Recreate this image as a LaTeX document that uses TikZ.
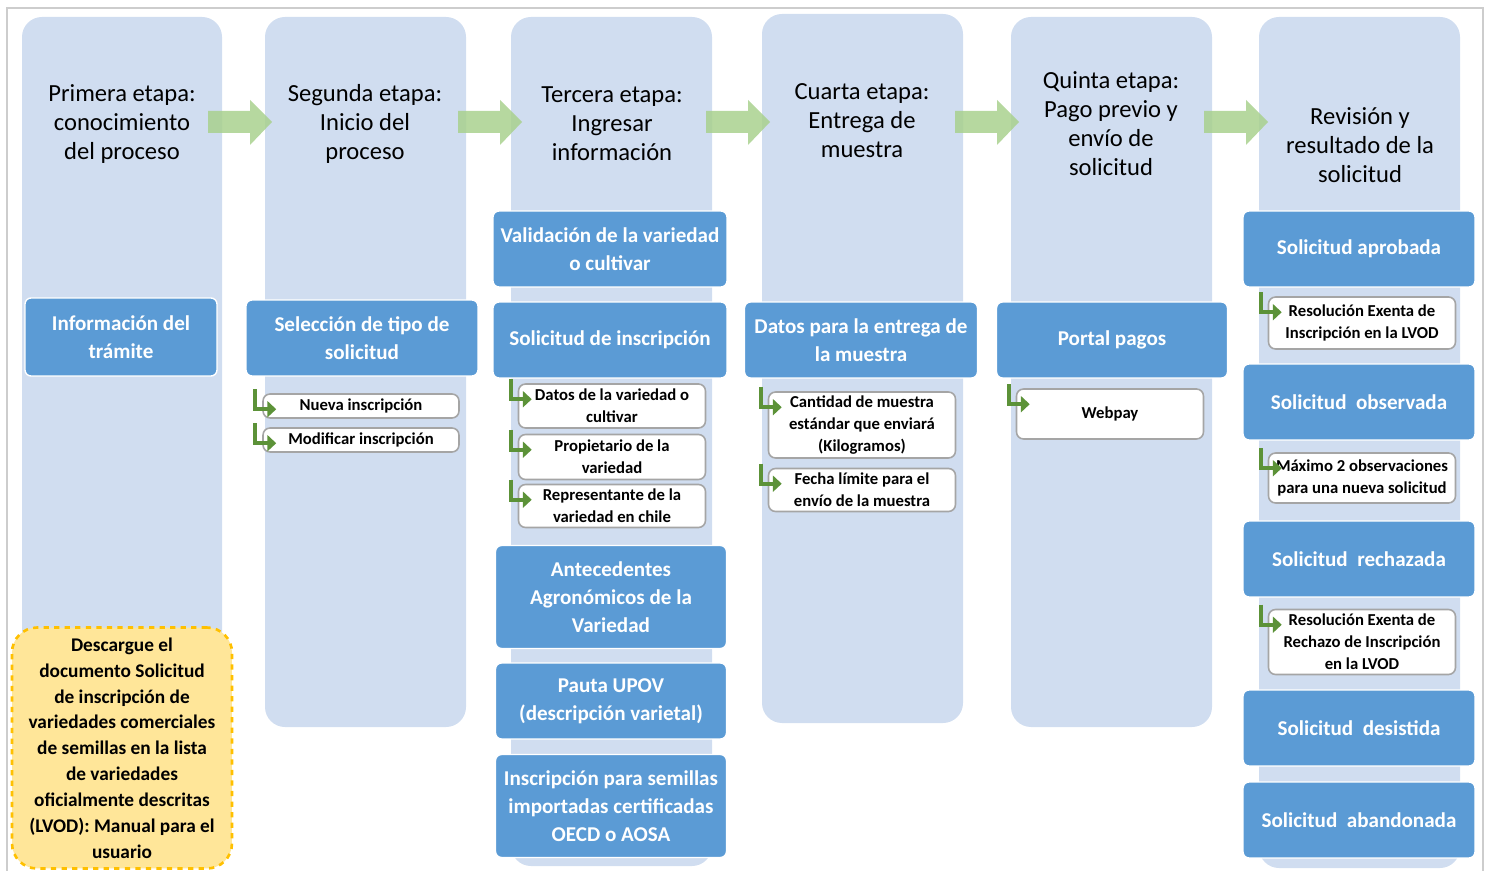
\documentclass[tikz,border=0pt]{standalone}
\usepackage{fontspec}
\setmainfont{Carlito}
\usetikzlibrary{calc,arrows.meta}
\definecolor{colfondo}{RGB}{208,221,240}
\definecolor{azul}{RGB}{91,155,213}
\definecolor{gris}{RGB}{165,165,165}
\definecolor{marcogris}{RGB}{205,205,205}
\definecolor{verdeclaro}{RGB}{169,209,142}
\definecolor{verdeosc}{RGB}{92,146,56}
\definecolor{amarillo}{RGB}{255,230,153}
\definecolor{naranja}{RGB}{255,192,0}
\tikzset{
 columna/.style={fill=colfondo, rounded corners=0.4cm},
 titulo/.style={align=center, font=\fontsize{14}{16.5}\selectfont},
 caja/.style={fill=azul, draw=white, line width=0.8pt, rounded corners=0.12cm, text=white, align=center,
   font=\bfseries\fontsize{12}{15.9}\selectfont, inner sep=0pt, minimum width=4.64cm, minimum height=1.52cm},
 sub/.style={fill=white, draw=gris, line width=0.9pt, rounded corners=0.14cm, align=center,
   font=\bfseries\fontsize{9.5}{12.5}\selectfont, inner sep=0pt, minimum width=3.74cm},
 flecha/.style={fill=verdeclaro, opacity=0.85},
 giro/.style={draw=verdeosc, line width=2.5pt, -{Triangle[length=5pt,width=9pt]}},
 aviso/.style={fill=amarillo, draw=naranja, dashed, line width=1.5pt, rounded corners=0.5cm, align=center,
   font=\bfseries\fontsize{11}{14.7}\selectfont, inner sep=0pt, minimum width=4.4cm, minimum height=4.82cm},
}
\begin{document}
\begin{tikzpicture}[x=0.02cm, y=-0.02cm]
 \useasboundingbox (0,0) rectangle (1488,871);
 \draw[marcogris, line width=1.2pt] (7,871) -- (7,8) -- (1483,8) -- (1483,871); %marco
 % columnas
 \fill[columna] (22,17) rectangle (222,720);
 \fill[columna] (265,17) rectangle (466,727);
 \fill[columna] (511,17) rectangle (712,866);
 \fill[columna] (762,14) rectangle (963,723);
 \fill[columna] (1011,17) rectangle (1212,727);
 \fill[columna] (1259,17) rectangle (1460,868);
 % titulos
 \node[titulo] (t1) at (122,124) {Primera etapa:\\conocimiento\\del proceso};
 \node[titulo] (t2) at (365,124) {Segunda etapa:\\Inicio del\\proceso};
 \node[titulo] (t3) at (612,124) {Tercera etapa:\\Ingresar\\información};
 \node[titulo] (t4) at (862,121) {Cuarta etapa:\\Entrega de\\muestra};
 \node[titulo] (t5) at (1111,124) {Quinta etapa:\\Pago previo y\\envío de\\solicitud};
 \node[titulo] (t6) at (1360,145) {Revisión y\\resultado de la\\solicitud};
 % flechas entre etapas
 \foreach \x in {208,458,706,955,1204}
  \fill[flecha] (\x,111) -- ++(42,0) -- ++(0,-11) -- ++(22,22) -- ++(-22,23) -- ++(0,-12) -- ++(-42,0) -- cycle;
 % cajas azules
 \node[caja, minimum width=3.84cm, minimum height=1.56cm] (info) at (121,337) {Información del\\trámite};
 \node[caja] (seleccion) at (362,338) {Selección de tipo de\\solicitud};
 \node[caja, minimum width=4.68cm] (validacion) at (610,249) {Validación de la variedad\\o cultivar};
 \node[caja, minimum width=4.68cm] (inscripcion) at (610,340) {Solicitud de inscripción};
 \node[caja, minimum width=4.62cm, minimum height=2.06cm] (antecedentes) at (611,597) {Antecedentes\\Agronómicos de la\\Variedad};
 \node[caja, minimum width=4.62cm] (pauta) at (611,701) {Pauta UPOV\\(descripción varietal)};
 \node[caja, minimum width=4.62cm, minimum height=2.06cm] (semillas) at (611,806) {Inscripción para semillas\\importadas certificadas\\OECD o AOSA};
 \node[caja, minimum width=4.66cm] (entrega) at (861,340) {Datos para la entrega de\\la muestra};
 \node[caja, minimum width=4.62cm] (portal) at (1112,340) {Portal pagos};
 \node[caja] (aprobada) at (1359,249) {Solicitud aprobada};
 \node[caja] (observada) at (1359,402) {Solicitud\ \ observada};
 \node[caja] (rechazada) at (1359,559) {Solicitud\ \ rechazada};
 \node[caja] (desistida) at (1359,728) {Solicitud\ \ desistida};
 \node[caja] (abandonada) at (1359,820) {Solicitud\ \ abandonada};
 % cajas blancas
 \node[sub, minimum width=3.92cm, minimum height=0.48cm] (nueva) at (361,406) {Nueva inscripción};
 \node[sub, minimum width=3.92cm, minimum height=0.48cm] (modificar) at (361,440) {Modificar inscripción};
 \node[sub, minimum height=0.88cm] (datosvar) at (612,406) {Datos de la variedad o\\cultivar};
 \node[sub, minimum height=0.90cm] (propietario) at (612,457) {Propietario de la\\variedad};
 \node[sub, minimum height=0.86cm] (representante) at (612,506) {Representante de la\\variedad en chile};
 \node[sub, minimum height=1.32cm] (cantidad) at (862,425) {Cantidad de muestra\\estándar que enviará\\(Kilogramos)};
 \node[sub, minimum height=0.86cm] (fecha) at (862,490) {Fecha límite para el\\envío de la muestra};
 \node[sub, minimum height=1.00cm] (webpay) at (1110,414) {Webpay};
 \node[sub, minimum height=1.04cm] (resaprob) at (1362,323) {Resolución Exenta de\\Inscripción en la LVOD};
 \node[sub, minimum height=1.00cm] (maximo) at (1362,478) {Máximo 2 observaciones\\para una nueva solicitud};
 \node[sub, minimum height=1.30cm] (resrech) at (1362,642) {Resolución Exenta de\\Rechazo de Inscripción\\en la LVOD};
 % flechas en L
 \foreach \n in {nueva,modificar,datosvar,propietario,representante,cantidad,fecha,webpay,resaprob,maximo,resrech}
  \draw[giro] ($(\n.north west)+(-7,-4)$) |- ($(\n.north west)+(14,16)$);
 % nota amarilla
 \node[aviso] (manual) at (122,748) {Descargue el\\documento Solicitud\\de inscripción de\\variedades comerciales\\de semillas en la lista\\de variedades\\oficialmente descritas\\(LVOD): Manual para el\\usuario};
\end{tikzpicture}
\end{document}
